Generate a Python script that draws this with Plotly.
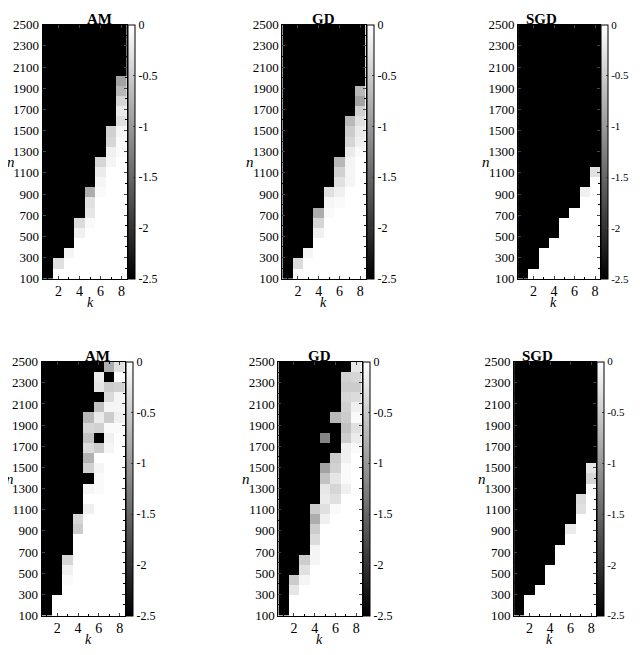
import numpy as np
import plotly.graph_objects as go

# grid: k = 1..8 columns, n = 100..2500 (25 rows)
k_vals = [1, 2, 3, 4, 5, 6, 7, 8]
n_vals = list(range(100, 2600, 100))
titles = ["AM", "GD", "SGD", "AM", "GD", "SGD"]

# first row index (per k) from which the cell is black (-2.5)
black_from = [
    [0, 2, 3, 6, 9, 12, 15, 20],
    [0, 2, 3, 7, 9, 12, 16, 19],
    [0, 1, 3, 4, 6, 7, 9, 11],
    [0, 2, 6, 10, 20, 21, 25, 25],
    [0, 4, 6, 11, 15, 16, 24, 25],
    [0, 2, 3, 5, 7, 9, 12, 15],
]

# individual cells (k, row, value) below the black front
cells = [
    [(2, 1, -0.3), (3, 2, -0.1), (4, 5, -0.35), (4, 4, -0.15),
     (5, 8, -0.8), (5, 7, -0.3), (5, 6, -0.25), (5, 5, -0.05),
     (6, 11, -0.4), (6, 10, -0.2), (6, 9, -0.1), (6, 8, -0.05),
     (7, 14, -0.45), (7, 13, -0.4), (7, 12, -0.15), (7, 11, -0.1),
     (8, 19, -0.9), (8, 18, -0.7), (8, 17, -0.4), (8, 16, -0.2),
     (8, 15, -0.3), (8, 14, -0.1), (8, 13, -0.05), (8, 12, -0.05)],
    [(2, 1, -0.35), (2, 0, -0.05), (3, 2, -0.1), (4, 6, -0.8), (4, 5, -0.4),
     (4, 4, -0.15), (5, 8, -0.3), (5, 7, -0.1), (5, 6, -0.05),
     (6, 11, -0.7), (6, 10, -0.45), (6, 9, -0.3), (6, 8, -0.15), (6, 7, -0.05),
     (7, 15, -0.7), (7, 14, -0.5), (7, 13, -0.4), (7, 12, -0.2),
     (7, 11, -0.1), (7, 10, -0.1), (7, 9, -0.1),
     (8, 18, -0.7), (8, 17, -0.9), (8, 16, -0.45), (8, 15, -0.3),
     (8, 14, -0.2), (8, 13, -0.15), (8, 12, -0.05)],
    [(8, 10, -0.3), (7, 8, -0.15)],
    [(3, 5, -0.4), (3, 4, -0.15), (3, 3, -0.05), (4, 9, -0.4), (4, 8, -0.5),
     (5, 19, -0.7), (5, 18, -0.4), (5, 17, -0.6), (5, 16, -0.35),
     (5, 15, -0.75), (5, 14, -0.45), (5, 13, -2.5), (5, 12, -0.1), (5, 10, -0.15),
     (6, 23, -0.2), (6, 22, -0.25), (6, 20, -0.6), (6, 19, -0.2),
     (6, 18, -0.45), (6, 17, -2.5), (6, 16, -0.5), (6, 14, -0.1),
     (6, 13, -0.05), (6, 12, -0.05),
     (7, 24, -0.8), (7, 23, -2.5), (7, 22, -0.5), (7, 21, -0.35), (7, 20, -0.1),
     (7, 19, -0.5), (7, 18, -0.05), (7, 17, -0.15), (7, 16, -0.1),
     (8, 24, -0.3), (8, 23, -0.02), (8, 22, -0.45), (8, 21, -0.1),
     (8, 20, -0.1), (8, 19, -0.15), (8, 18, -0.05)],
    [(2, 3, -0.5), (2, 2, -0.25), (3, 5, -0.5), (3, 4, -0.3), (3, 3, -0.1),
     (4, 10, -0.5), (4, 9, -0.8), (4, 8, -0.5), (4, 7, -0.35), (4, 6, -0.1), (4, 5, -0.1),
     (5, 17, -1.2), (5, 14, -0.9), (5, 13, -0.6), (5, 12, -0.25), (5, 11, -0.2),
     (5, 10, -0.3), (5, 9, -0.15),
     (6, 19, -0.7), (6, 15, -0.5), (6, 14, -0.45), (6, 13, -0.25), (6, 12, -0.4),
     (6, 11, -0.3), (6, 10, -0.05),
     (7, 23, -0.45), (7, 22, -0.5), (7, 21, -0.4), (7, 20, -0.45), (7, 19, -0.5),
     (7, 18, -0.6), (7, 17, -0.5), (7, 16, -0.15), (7, 15, -0.15), (7, 14, -0.05),
     (7, 13, -0.05), (7, 12, -0.15),
     (8, 24, -0.25), (8, 23, -0.4), (8, 22, -0.5), (8, 21, -0.35), (8, 20, -0.15),
     (8, 19, -0.05), (8, 18, -0.3), (8, 17, -0.2), (8, 16, -0.05)],
    [(6, 8, -0.2), (7, 11, -0.35), (7, 10, -0.3), (8, 14, -0.25), (8, 13, -0.4),
     (8, 12, -0.05)],
]

cb_vals = [0, -0.5, -1, -1.5, -2, -2.5]
cb_text = ["0", "-0.5", "-1", "-1.5", "-2", "-2.5"]
y_ticks = list(range(100, 2600, 200))

# page body has an 8px margin; keep the figure small enough to avoid scrollbars
OFF = 8
W, H = 640 - 2 * OFF, 655 - 2 * OFF
# plot boxes in window pixels: (left, right, top, bottom)
boxes = [(43, 128, 18, 278), (285, 369, 18, 278), (523, 606, 18, 278),
         (42, 126, 363, 623), (281, 365, 363, 623), (519, 602, 363, 623)]

font = "Liberation Serif"
y_edges = np.linspace(100, 2500, len(n_vals) + 1)
x_edges = np.arange(0.5, 9.0, 1.0)

fig = go.Figure()
for i in range(6):
    z = np.zeros((len(n_vals), len(k_vals)))
    for c, r0 in enumerate(black_from[i]):
        z[r0:, c] = -2.5
    for k, r, v in cells[i]:
        z[r, k - 1] = v
    l, rgt, t, b = [p - OFF for p in boxes[i]]
    xd = [l / W, rgt / W]
    yd = [1 - b / H, 1 - t / H]
    ax = "" if i == 0 else str(i + 1)
    fig.add_trace(go.Heatmap(
        z=z, x=x_edges, y=y_edges, zmin=-2.5, zmax=0,
        colorscale=[[0, "black"], [1, "white"]],
        xaxis="x" + ax, yaxis="y" + ax,
        colorbar=dict(x=(rgt + 1) / W, xanchor="left", y=(yd[0] + yd[1]) / 2,
                      len=yd[1] - yd[0], lenmode="fraction", thickness=7,
                      outlinewidth=1, outlinecolor="black",
                      tickvals=cb_vals, ticktext=cb_text, ticks="inside",
                      ticklen=2, xpad=0, ypad=0,
                      tickfont=dict(family=font, size=12 if i % 3 < 2 else 11,
                                    color="black")),
    ))
    fig.layout["xaxis" + ax] = dict(
        domain=xd, anchor="y" + ax, range=[0.5, 8.5], tickvals=[2, 4, 6, 8],
        ticks="inside", ticklen=3, mirror="ticks", showline=True, linecolor="black",
        linewidth=1, showgrid=False, zeroline=False,
        minor=dict(dtick=1, ticks="inside", ticklen=2, tickcolor="black"),
        tickfont=dict(family=font, size=14, color="black"))
    fig.layout["yaxis" + ax] = dict(
        domain=yd, anchor="x" + ax, range=[100, 2500], tickvals=y_ticks,
        ticks="inside", ticklen=3, mirror="ticks", showline=True, linecolor="black",
        linewidth=1, showgrid=False, zeroline=False,
        minor=dict(dtick=100, tick0=100, ticks="inside", ticklen=2, tickcolor="black"),
        tickfont=dict(family=font, size=13, color="black"))
    fig.add_annotation(text="<b>%s</b>" % titles[i], x=(xd[0] + xd[1]) / 2, y=yd[1],
                       xref="paper", yref="paper", yanchor="bottom", showarrow=False,
                       yshift=-4, font=dict(family=font, size=15, color="black"))
    fig.add_annotation(text="<i>k</i>", x=(xd[0] + xd[1]) / 2, y=yd[0],
                       xref="paper", yref="paper", yanchor="top", showarrow=False,
                       yshift=-14, font=dict(family=font, size=14, color="black"))
    fig.add_annotation(text="<i>n</i>", x=xd[0], y=(yd[0] + yd[1]) / 2,
                       xref="paper", yref="paper", xanchor="right", showarrow=False,
                       xshift=-26, font=dict(family=font, size=15, color="black"))

fig.update_layout(width=W, height=H, margin=dict(l=0, r=0, t=0, b=0),
                  plot_bgcolor="white", paper_bgcolor="white",
                  font=dict(family=font, color="black"))
fig.write_html("out.html")
